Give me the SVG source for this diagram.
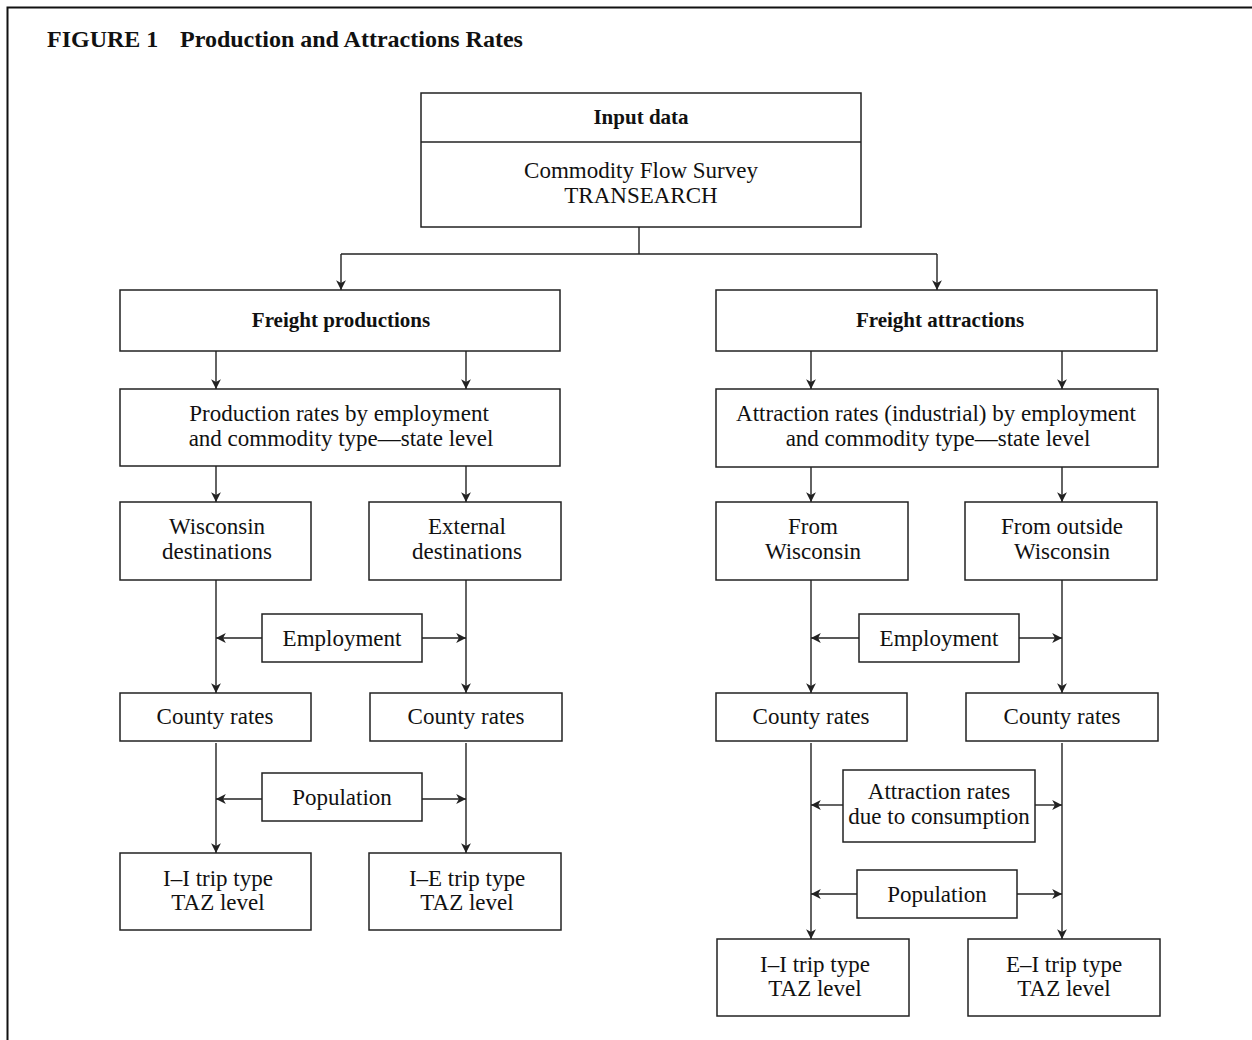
<svg xmlns="http://www.w3.org/2000/svg" width="1252" height="1040" viewBox="0 0 1252 1040">
<style>
.box{fill:#fff;stroke:#222;stroke-width:1.5}
.t{font-family:"Liberation Serif","Times New Roman",serif;font-size:23px;fill:#111;text-anchor:middle}
.b{font-family:"Liberation Serif","Times New Roman",serif;font-size:21px;font-weight:bold;fill:#111;text-anchor:middle}
.ttl{font-family:"Liberation Serif","Times New Roman",serif;font-size:24px;font-weight:bold;fill:#111}
.c{fill:none;stroke:#222;stroke-width:1.4}
.a{marker-end:url(#ah)}
</style>
<defs>
<marker id="ah" markerUnits="userSpaceOnUse" markerWidth="12" markerHeight="12" viewBox="-10 -5 11 10" refX="0" refY="0" orient="auto">
<path d="M0,0 L-9,-4.5 L-6.5,0 L-9,4.5 Z" fill="#222"/>
</marker>
</defs>
<rect width="1252" height="1040" fill="#fff"/>
<g id="frame">
<path d="M7.5,1040 V7.5 H1252" fill="none" stroke="#111" stroke-width="2"/>
<text class="ttl" x="47" y="47">FIGURE 1</text>
<text class="ttl" x="180" y="47">Production and Attractions Rates</text>
</g>
<g id="connectors">
<path class="c" d="M639,227 V254"/>
<path class="c" d="M341,254 H937"/>
<path class="c a" d="M341,254 V290"/>
<path class="c a" d="M937,254 V290"/>
<path class="c a" d="M216,351 V389"/>
<path class="c a" d="M466,351 V389"/>
<path class="c a" d="M811,351 V389"/>
<path class="c a" d="M1062,351 V389"/>
<path class="c a" d="M216,466 V502"/>
<path class="c a" d="M466,466 V502"/>
<path class="c a" d="M811,467 V502"/>
<path class="c a" d="M1062,467 V502"/>
<path class="c a" d="M216,580 V693"/>
<path class="c a" d="M466,580 V693"/>
<path class="c a" d="M811,580 V693"/>
<path class="c a" d="M1062,580 V693"/>
<path class="c a" d="M216,743 V853"/>
<path class="c a" d="M466,743 V853"/>
<path class="c a" d="M811,743 V939"/>
<path class="c a" d="M1062,743 V939"/>
<path class="c a" d="M262,638 H216"/>
<path class="c a" d="M422,638 H466"/>
<path class="c a" d="M262,799 H216"/>
<path class="c a" d="M422,799 H466"/>
<path class="c a" d="M859,638 H811"/>
<path class="c a" d="M1019,638 H1062"/>
<path class="c a" d="M843,805 H811"/>
<path class="c a" d="M1035,805 H1062"/>
<path class="c a" d="M857,894 H811"/>
<path class="c a" d="M1017,894 H1062"/>
</g>
<g id="input">
<rect class="box" x="421" y="93" width="440" height="134"/>
<line x1="421" y1="142" x2="861" y2="142" stroke="#222" stroke-width="1.5"/>
<text class="b" x="641" y="124">Input data</text>
<text class="t" x="641" y="178">Commodity Flow Survey</text>
<text class="t" x="641" y="203">TRANSEARCH</text>
</g>
<g id="freight-productions">
<rect class="box" x="120" y="290" width="440" height="61"/>
<text class="b" x="341" y="327">Freight productions</text>
</g>
<g id="freight-attractions">
<rect class="box" x="716" y="290" width="441" height="61"/>
<text class="b" x="940" y="327">Freight attractions</text>
</g>
<g id="production-rates">
<rect class="box" x="120" y="389" width="440" height="77"/>
<text class="t" x="339" y="421">Production rates by employment</text>
<text class="t" x="341" y="446">and commodity type—state level</text>
</g>
<g id="attraction-rates">
<rect class="box" x="716" y="389" width="442" height="78"/>
<text class="t" x="936" y="421">Attraction rates (industrial) by employment</text>
<text class="t" x="938" y="446">and commodity type—state level</text>
</g>
<g id="wisconsin-destinations">
<rect class="box" x="120" y="502" width="191" height="78"/>
<text class="t" x="217" y="534">Wisconsin</text>
<text class="t" x="217" y="559">destinations</text>
</g>
<g id="external-destinations">
<rect class="box" x="369" y="502" width="192" height="78"/>
<text class="t" x="467" y="534">External</text>
<text class="t" x="467" y="559">destinations</text>
</g>
<g id="from-wisconsin">
<rect class="box" x="716" y="502" width="192" height="78"/>
<text class="t" x="813" y="534">From</text>
<text class="t" x="813" y="559">Wisconsin</text>
</g>
<g id="from-outside">
<rect class="box" x="965" y="502" width="192" height="78"/>
<text class="t" x="1062" y="534">From outside</text>
<text class="t" x="1062" y="559">Wisconsin</text>
</g>
<g id="employment-left">
<rect class="box" x="262" y="614" width="160" height="48"/>
<text class="t" x="342" y="646">Employment</text>
</g>
<g id="employment-right">
<rect class="box" x="859" y="614" width="160" height="48"/>
<text class="t" x="939" y="646">Employment</text>
</g>
<g id="county-1">
<rect class="box" x="120" y="693" width="191" height="48"/>
<text class="t" x="215" y="724">County rates</text>
</g>
<g id="county-2">
<rect class="box" x="370" y="693" width="192" height="48"/>
<text class="t" x="466" y="724">County rates</text>
</g>
<g id="county-3">
<rect class="box" x="716" y="693" width="191" height="48"/>
<text class="t" x="811" y="724">County rates</text>
</g>
<g id="county-4">
<rect class="box" x="966" y="693" width="192" height="48"/>
<text class="t" x="1062" y="724">County rates</text>
</g>
<g id="population-left">
<rect class="box" x="262" y="773" width="160" height="48"/>
<text class="t" x="342" y="805">Population</text>
</g>
<g id="attraction-consumption">
<rect class="box" x="843" y="770" width="192" height="72"/>
<text class="t" x="939" y="799">Attraction rates</text>
<text class="t" x="939" y="824">due to consumption</text>
</g>
<g id="population-right">
<rect class="box" x="857" y="870" width="160" height="48"/>
<text class="t" x="937" y="902">Population</text>
</g>
<g id="ii-left">
<rect class="box" x="120" y="853" width="191" height="77"/>
<text class="t" x="218" y="886">I–I trip type</text>
<text class="t" x="218" y="910">TAZ level</text>
</g>
<g id="ie">
<rect class="box" x="369" y="853" width="192" height="77"/>
<text class="t" x="467" y="886">I–E trip type</text>
<text class="t" x="467" y="910">TAZ level</text>
</g>
<g id="ii-right">
<rect class="box" x="717" y="939" width="192" height="77"/>
<text class="t" x="815" y="972">I–I trip type</text>
<text class="t" x="815" y="996">TAZ level</text>
</g>
<g id="ei">
<rect class="box" x="968" y="939" width="192" height="77"/>
<text class="t" x="1064" y="972">E–I trip type</text>
<text class="t" x="1064" y="996">TAZ level</text>
</g>
</svg>
